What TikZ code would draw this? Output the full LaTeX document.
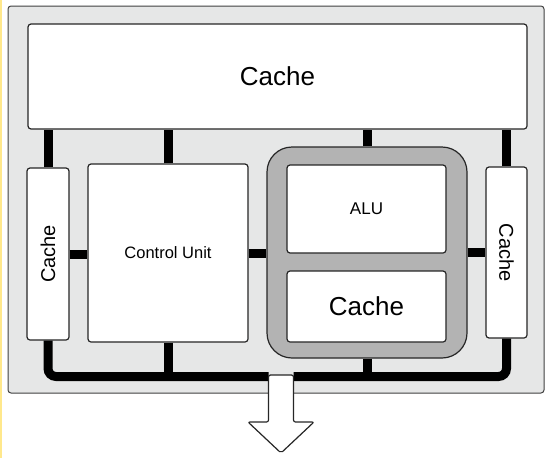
\documentclass[tikz,border=0pt]{standalone}
\usepackage{fontspec}
\setmainfont{Liberation Sans}
\usepackage{graphicx}
\usepackage{tikz}
\definecolor{chipbg}{RGB}{230,231,231}
\definecolor{ring}{RGB}{179,179,179}
\definecolor{rand}{RGB}{255,232,140}

\begin{document}
\begin{tikzpicture}[x=1pt, y=-1pt,
                blk/.style={draw=black!85, fill=white, line width=1.2pt, rounded corners=3pt, inner sep=0pt},
                bus/.style={line width=9pt, black}]

            \useasboundingbox (0,0) rectangle (546,458);
            \fill[rand] (0,0) rectangle (1.5,458);

            % chip
            \node[draw=black!75, fill=chipbg, line width=1pt, rounded corners=3pt, inner sep=0pt,
                  minimum width=536pt, minimum height=387pt] (chip) at (276,199.5) {};

            % blokken
            \node[blk, minimum width=499pt, minimum height=105pt, font=\fontsize{26}{30}\selectfont] (topcache) at (277.5,76.5) {Cache};
            \node[blk, minimum width=42pt, minimum height=172pt, font=\fontsize{20}{24}\selectfont] (lcache) at (48,254) {\rotatebox{90}{Cache}};
            \node[blk, minimum width=160pt, minimum height=178pt, font=\fontsize{16.5}{20}\selectfont] (cu) at (168,253) {Control Unit};
            \node[draw=black!85, fill=ring, line width=1.2pt, rounded corners=25pt,
                  minimum width=200pt, minimum height=211pt] (alubox) at (367,252.5) {};
            \node[blk, minimum width=159pt, minimum height=88pt, font=\fontsize{17}{20}\selectfont] (alu) at (366.5,209) {ALU};
            \node[blk, minimum width=159pt, minimum height=71pt, font=\fontsize{26}{30}\selectfont] (icache) at (366.5,306.5) {Cache};
            \node[blk, minimum width=41pt, minimum height=171pt, font=\fontsize{20}{24}\selectfont] (rcache) at (506.5,252.5) {\rotatebox{-90}{Cache}};

            % bussen
            \coordinate (outL) at (268.5,376.5);
            \coordinate (outR) at (293.5,376.5);
            \draw[bus] (lcache.north) -- (lcache.north |- topcache.south);
            \draw[bus] (cu.north) -- (cu.north |- topcache.south);
            \draw[bus] (alubox.north) -- (alubox.north |- topcache.south);
            \draw[bus] (rcache.north) -- (rcache.north |- topcache.south);
            \draw[bus] (lcache.east) -- (lcache.east -| cu.west);
            \draw[bus] (cu.east) -- (cu.east -| alubox.west);
            \draw[bus] (alubox.east) -- (alubox.east -| rcache.west);
            \draw[bus, rounded corners=8pt] (lcache.south) |- (outL);
            \draw[bus, rounded corners=8pt] (rcache.south) |- (outR);
            \draw[bus] (cu.south) -- (cu.south |- outL);
            \draw[bus] (alubox.south) -- (alubox.south |- outL);

            % uitgang
            \draw[fill=white, draw=black!85, line width=1.2pt, rounded corners=2pt]
                (268.5,422) -- (268.5,375) -- (293.5,375) -- (293.5,422) -- (314,422) -- (281,453) -- (248,422) -- cycle;

        \end{tikzpicture}
\end{document}
